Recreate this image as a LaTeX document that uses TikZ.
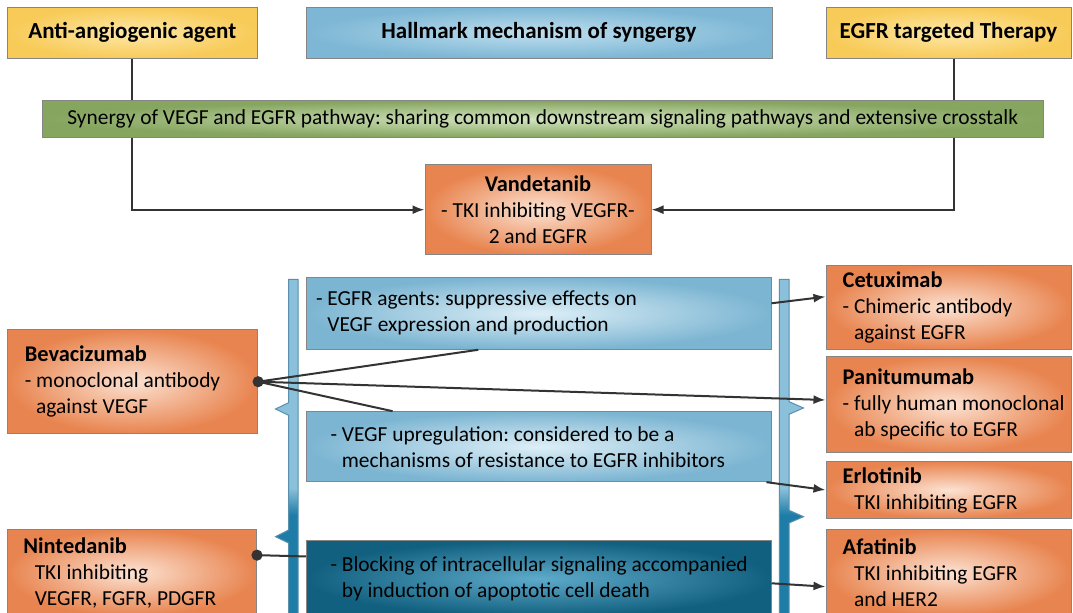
\documentclass[tikz,border=0pt]{standalone}
\usepackage{fontspec}
\setmainfont{Carlito}
\usetikzlibrary{arrows.meta,calc}
\frenchspacing

\definecolor{linegray}{HTML}{333333}
\definecolor{edgegray}{HTML}{858585}
\definecolor{yellowout}{HTML}{F8CB58}
\definecolor{yellowin}{HTML}{FDE7A8}
\definecolor{headout}{HTML}{7DB7D5}
\definecolor{headin}{HTML}{BFDEEE}
\definecolor{greenout}{HTML}{86A55F}
\definecolor{greenin}{HTML}{D3E4C0}
\definecolor{orangeout}{HTML}{E8844F}
\definecolor{orangein}{HTML}{FCE2D2}
\definecolor{paleout}{HTML}{7CB5D2}
\definecolor{palein}{HTML}{DDEFF7}
\definecolor{darkout}{HTML}{12607F}
\definecolor{darkin}{HTML}{5EAACA}
\definecolor{barlight}{HTML}{8BC0DA}
\definecolor{bardark}{HTML}{1E7DA7}
\definecolor{baredge}{HTML}{5A8FAE}

\pgfdeclareverticalshading{barshade}{100bp}{color(0bp)=(bardark); color(40bp)=(bardark); color(44bp)=(barlight); color(100bp)=(barlight)}

\newcommand{\drugname}[1]{{\fontsize{11.2}{13}\selectfont\bfseries #1}}

\begin{document}
\begin{tikzpicture}[x=0.5pt,y=-0.5pt,
    every node/.style={font=\fontsize{10.7}{13}\selectfont},
    box/.style={draw=edgegray,line width=0.5pt,inner sep=0pt},
    agentbox/.style={box,inner color=yellowin,outer color=yellowout,
      minimum height=25.5pt,font=\fontsize{11.5}{14}\selectfont\bfseries},
    headbox/.style={box,inner color=headin,outer color=headout,
      minimum height=25.5pt,font=\fontsize{11.5}{14}\selectfont\bfseries},
    synbox/.style={box,inner color=greenin,outer color=greenout},
    drugbox/.style={box,inner color=orangein,outer color=orangeout},
    palebox/.style={box,inner color=palein,outer color=paleout},
    darkbox/.style={box,inner color=darkin,outer color=darkout},
    centertext/.style={align=center,
      execute at begin node={\spaceskip=0pt\xspaceskip=0pt}},
    lefttext/.style 2 args={text width=#1,align=left,
      execute at begin node={\leftskip=#2\spaceskip=0pt\xspaceskip=0pt\hyphenpenalty=10000}},
    link/.style={draw=linegray,line width=1pt},
    arrowlink/.style={link,-{Latex[length=6pt,width=4.5pt]}},
  ]
  \path[use as bounding box,fill=white] (0,0) rectangle (1073,613);
  \clip (0,0) rectangle (1073,613);

  % the two brackets behind the middle column
  \shadedraw[shading=barshade,draw=baredge,line width=0.5pt]
    (288.6,279.3) -- (298,279.3) -- (298,616) -- (288.6,616)
    -- (288.6,543) -- (275.5,536.7) -- (288.6,530)
    -- (288.6,415.3) -- (275.5,409) -- (288.6,402.7) -- cycle;
  \shadedraw[shading=barshade,draw=baredge,line width=0.5pt]
    (779.3,279.3) -- (789,279.3) -- (789,401.7) -- (803.5,408) -- (789,414.3)
    -- (789,510.3) -- (803.5,516.7) -- (789,523)
    -- (789,616) -- (779.3,616) -- cycle;

  % top row
  \node[agentbox,minimum width=124.7pt] (anti) at (132.3,32.8) {Anti-angiogenic agent};
  \node[headbox,minimum width=233pt] (hallmark) at (539,32.8) {Hallmark mechanism of syngergy};
  \node[agentbox,minimum width=122.5pt] (egfr) at (948.5,32.8) {EGFR targeted Therapy};

  \node[synbox,minimum width=500.75pt,minimum height=18.3pt] (synergy) at (542.75,119)
    {Synergy of VEGF and EGFR pathway: sharing common downstream signaling pathways and extensive crosstalk};

  \node[drugbox,centertext,minimum width=113pt,minimum height=45.3pt] (vandetanib) at (538,209.7)
    {\drugname{Vandetanib}\\- TKI inhibiting VEGFR-\\2 and EGFR};

  % left column
  \node[drugbox,lefttext={125.3pt}{8.9pt},minimum height=52.3pt] (bev) at (132.3,381.7)
    {\drugname{Bevacizumab}\\- monoclonal antibody\\\phantom{- }against VEGF};
  \node[drugbox,lefttext={124.75pt}{8.2pt},minimum height=43.35pt] (nin) at (131.75,572.7)
    {\drugname{Nintedanib}\\\phantom{- }TKI inhibiting\\\phantom{- }VEGFR, FGFR, PDGFR};

  % middle column
  \node[palebox,lefttext={232.25pt}{4.75pt},minimum height=36pt] (egfrag) at (538.75,313.3)
    {- EGFR agents: suppressive effects on\\\phantom{- }VEGF expression and production};
  \node[palebox,lefttext={232.25pt}{12pt},minimum height=35pt] (vegfup) at (538.75,446.7)
    {- VEGF upregulation: considered to be a\\\phantom{- }mechanisms of resistance to EGFR inhibitors};
  \node[darkbox,lefttext={232.25pt}{12pt},minimum height=37.5pt] (block) at (538.75,578.5)
    {- Blocking of intracellular signaling accompanied\\\phantom{- }by induction of apoptotic cell death};

  % right column
  \node[drugbox,lefttext={122.5pt}{8.35pt},minimum height=42.15pt] (cet) at (948.5,307.2)
    {\drugname{Cetuximab}\\- Chimeric antibody\\\phantom{- }against EGFR};
  \node[drugbox,lefttext={122.5pt}{8.35pt},minimum height=48pt] (pan) at (948.5,404.7)
    {\drugname{Panitumumab}\\- fully human monoclonal\\\phantom{- }ab specific to EGFR};
  \node[drugbox,lefttext={122.5pt}{8.35pt},minimum height=28.3pt] (erl) at (948.5,490)
    {\drugname{Erlotinib}\\\phantom{- }TKI inhibiting EGFR};
  \node[drugbox,lefttext={122.5pt}{8.35pt},minimum height=43.35pt] (afa) at (948.5,572.7)
    {\drugname{Afatinib}\\\phantom{- }TKI inhibiting EGFR\\\phantom{- }and HER2};

  % connectors
  \draw[link] (anti.south) -- (anti.south |- synergy.north);
  \draw[arrowlink] (anti.south |- synergy.south) |- (vandetanib.west);
  \draw[link] ([xshift=2.75pt]egfr.south) -- ([xshift=2.75pt]egfr.south |- synergy.north);
  \draw[arrowlink] ([xshift=2.75pt]egfr.south |- synergy.south) |- (vandetanib.east);

  \fill[linegray] (bev.east) circle (2.8pt);
  \draw[link] (bev.east) -- ($(egfrag.south west)!0.37!(egfrag.south east)$);
  \draw[arrowlink] (bev.east) -- ([yshift=2.35pt]pan.west);
  \draw[link] (bev.east) -- ($(vegfup.north west)!0.186!(vegfup.north east)$);

  \coordinate (ninout) at ($(nin.north east)!0.3!(nin.south east)$);
  \fill[linegray] (ninout) circle (2.8pt);
  \draw[link] (ninout) -- ($(block.north west)!0.21!(block.south west)$);

  \draw[arrowlink] ([yshift=5pt]egfrag.east) -- ([yshift=5.25pt]cet.west);
  \draw[arrowlink] ([xshift=-2.5pt]vegfup.south east) -- (erl.west);
  \draw[arrowlink] ([yshift=-2.4pt]block.east) -- ([yshift=-7pt]afa.west);
\end{tikzpicture}
\end{document}
